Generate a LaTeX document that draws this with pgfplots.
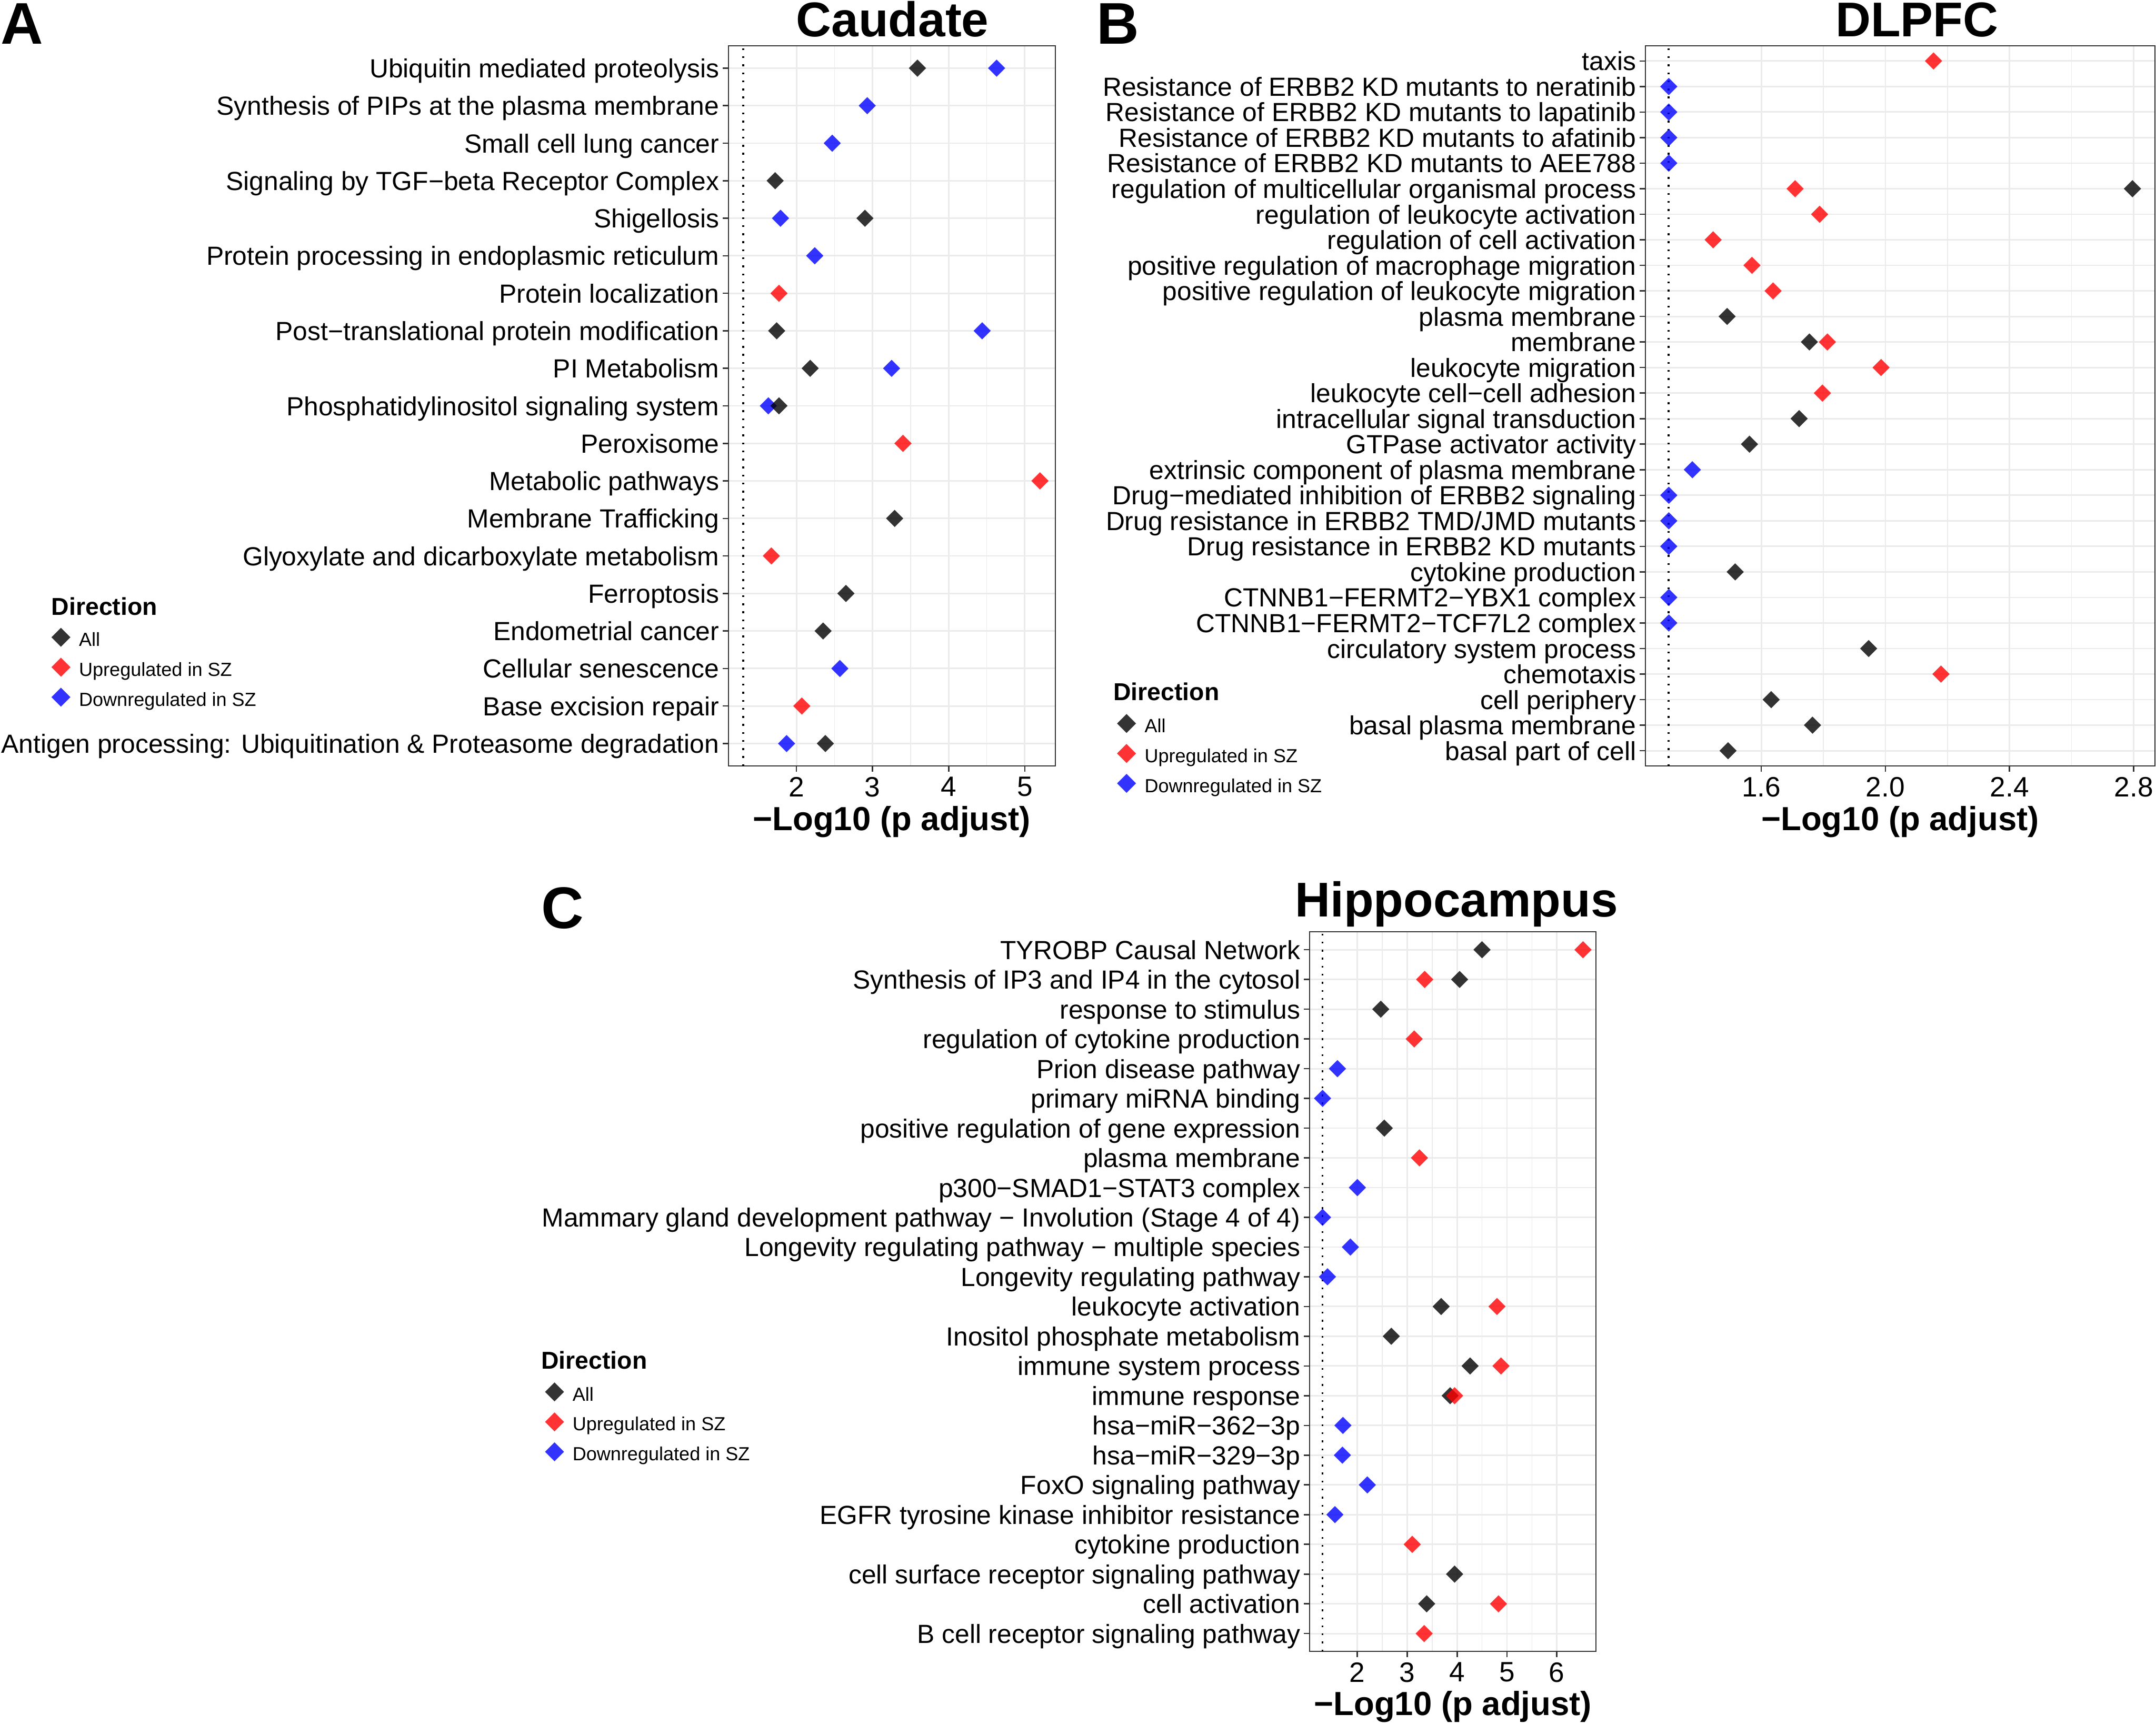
\documentclass[border=0pt]{standalone}
\usepackage{fontspec}
\setmainfont{Liberation Sans}
\usepackage{pgfplots}
\pgfplotsset{compat=1.18}
\definecolor{gg20}{HTML}{333333}
\definecolor{gg92}{HTML}{EBEBEB}
\newcommand{\lab}{\fontsize{5.8}{6.5}\selectfont}
\pgfplotsset{
  sAll/.style={only marks, mark=diamond*, mark size=1.9pt, mark options={draw opacity=0, fill=black, fill opacity=0.8, xscale=1.333}},
  sUp/.style={only marks, mark=diamond*, mark size=1.9pt, mark options={draw opacity=0, fill=red, fill opacity=0.8, xscale=1.333}},
  sDown/.style={only marks, mark=diamond*, mark size=1.9pt, mark options={draw opacity=0, fill=blue, fill opacity=0.8, xscale=1.333}},
  legimg/.style={legend image code/.code={\draw[##1] plot coordinates {(0pt,1.2pt)};}},
  lAll/.style={only marks, mark=diamond*, mark size=2.1pt, mark options={draw opacity=0, fill=black, fill opacity=0.8, xscale=1.333}, legimg},
  lUp/.style={only marks, mark=diamond*, mark size=2.1pt, mark options={draw opacity=0, fill=red, fill opacity=0.8, xscale=1.333}, legimg},
  lDown/.style={only marks, mark=diamond*, mark size=2.1pt, mark options={draw opacity=0, fill=blue, fill opacity=0.8, xscale=1.333}, legimg},
  vline/.style={black, line width=0.4pt, dash pattern=on 0.4pt off 1.38pt},
  panel/.style={
    scale only axis,
    clip=false,
    axis line style={gg20, line width=0.25pt},
    every tick/.style={gg20, line width=0.3pt},
    tick align=outside,
    major tick length=1.25pt,
    minor tick length=0pt,
    xtick pos=left, ytick pos=left,
    xmajorgrids, ymajorgrids, xminorgrids,
    major grid style={gg92, line width=0.33pt},
    minor grid style={gg92, line width=0.17pt},
    minor x tick num=1,
    /pgf/number format/assume math mode=true,
    xticklabel style={font=\fontsize{6.2}{7}\selectfont, inner sep=0pt, yshift=-1pt},
    yticklabel style={font=\lab, inner sep=0pt, xshift=-0.6pt, text height=4.2pt, text depth=0pt},
    xlabel style={at={(axis description cs:0.5,-0.0897)}, anchor=base, font=\bfseries\fontsize{7.4}{8}\selectfont},
    legend style={draw=none, fill=none, inner sep=0pt, outer sep=0pt, anchor=north west,
      font=\fontsize{4.2}{5}\selectfont, row sep=1.05pt, column sep=1.9pt, nodes={inner sep=0pt}},
    legend cell align=left,
  },
}
\begin{document}
\begin{tikzpicture}
\useasboundingbox (0,0) rectangle (477.1pt,381.4pt);

% ---------------- A: Caudate ----------------
\begin{axis}[panel, at={(161.2pt,211.9pt)}, anchor=south west,
  width=72.3pt, height=159.4pt,
  xmin=1.106, xmax=5.40, ymin=0.4, ymax=19.6,
  xtick={2,3,4,5}, ytick={1,...,19},
  yticklabels={Antigen processing: Ubiquitination \& Proteasome degradation, Base excision repair, Cellular senescence, Endometrial cancer, Ferroptosis, Glyoxylate and dicarboxylate metabolism, Membrane Trafficking, Metabolic pathways, Peroxisome, Phosphatidylinositol signaling system, PI Metabolism, Post−translational protein modification, Protein localization, Protein processing in endoplasmic reticulum, Shigellosis, Signaling by TGF−beta Receptor Complex, Small cell lung cancer, Synthesis of PIPs at the plasma membrane, Ubiquitin mediated proteolysis},
  xlabel={−Log10 (p adjust)},
  legend style={at={(axis description cs:-2.072,0.1919)}},
]
\addlegendimage{lAll}\addlegendentry{All}
\addlegendimage{lUp}\addlegendentry{Upregulated in SZ}
\addlegendimage{lDown}\addlegendentry{Downregulated in SZ}
\addplot[vline, forget plot] coordinates {(1.30103,0.4) (1.30103,19.6)};
\addplot[sDown, forget plot] coordinates {(4.63,19) (2.93,18) (2.47,17) (1.79,15) (2.24,14) (4.44,12) (3.25,11) (1.63,10) (2.57,3) (1.87,1)};
\addplot[sAll, forget plot] coordinates {(3.59,19) (1.72,16) (2.90,15) (1.74,12) (2.18,11) (1.77,10) (3.29,7) (2.65,5) (2.35,4) (2.38,1)};
\addplot[sUp, forget plot] coordinates {(1.77,13) (3.40,9) (5.20,8) (1.67,6) (2.07,2)};
\end{axis}

% ---------------- B: DLPFC ----------------
\begin{axis}[panel, at={(364.1pt,211.9pt)}, anchor=south west,
  width=112.8pt, height=159.4pt,
  xmin=1.2265, xmax=2.869, ymin=0.4, ymax=28.6,
  xtick={1.6,2.0,2.4,2.8}, ytick={1,...,28},
  xticklabels={1.6,2.0,2.4,2.8},
  yticklabels={basal part of cell, basal plasma membrane, cell periphery, chemotaxis, circulatory system process, CTNNB1−FERMT2−TCF7L2 complex, CTNNB1−FERMT2−YBX1 complex, cytokine production, Drug resistance in ERBB2 KD mutants, Drug resistance in ERBB2 TMD/JMD mutants, Drug−mediated inhibition of ERBB2 signaling, extrinsic component of plasma membrane, GTPase activator activity, intracellular signal transduction, leukocyte cell−cell adhesion, leukocyte migration, membrane, plasma membrane, positive regulation of leukocyte migration, positive regulation of macrophage migration, regulation of cell activation, regulation of leukocyte activation, regulation of multicellular organismal process, Resistance of ERBB2 KD mutants to AEE788, Resistance of ERBB2 KD mutants to afatinib, Resistance of ERBB2 KD mutants to lapatinib, Resistance of ERBB2 KD mutants to neratinib, taxis},
  xlabel={−Log10 (p adjust)},
  legend style={at={(axis description cs:-1.0364,0.0722)}},
]
\addlegendimage{lAll}\addlegendentry{All}
\addlegendimage{lUp}\addlegendentry{Upregulated in SZ}
\addlegendimage{lDown}\addlegendentry{Downregulated in SZ}
\addplot[vline, forget plot] coordinates {(1.30103,0.4) (1.30103,28.6)};
\addplot[sDown, forget plot] coordinates {(1.302,27) (1.302,26) (1.302,25) (1.302,24) (1.378,12) (1.302,11) (1.302,10) (1.302,9) (1.302,7) (1.302,6)};
\addplot[sAll, forget plot] coordinates {(2.796,23) (1.490,18) (1.755,17) (1.722,14) (1.562,13) (1.516,8) (1.946,5) (1.632,3) (1.765,2) (1.493,1)};
\addplot[sUp, forget plot] coordinates {(2.155,28) (1.709,23) (1.788,22) (1.445,21) (1.570,20) (1.638,19) (1.813,17) (1.986,16) (1.797,15) (2.179,4)};
\end{axis}

% ---------------- C: Hippocampus ----------------
\begin{axis}[panel, at={(289.8pt,16.0pt)}, anchor=south west,
  width=63.4pt, height=159.2pt,
  xmin=1.042, xmax=6.787, ymin=0.4, ymax=24.6,
  xtick={2,3,4,5,6}, ytick={1,...,24},
  yticklabels={B cell receptor signaling pathway, cell activation, cell surface receptor signaling pathway, cytokine production, EGFR tyrosine kinase inhibitor resistance, FoxO signaling pathway, hsa−miR−329−3p, hsa−miR−362−3p, immune response, immune system process, Inositol phosphate metabolism, leukocyte activation, Longevity regulating pathway, Longevity regulating pathway − multiple species, Mammary gland development pathway − Involution (Stage 4 of 4), p300−SMAD1−STAT3 complex, plasma membrane, positive regulation of gene expression, primary miRNA binding, Prion disease pathway, regulation of cytokine production, response to stimulus, Synthesis of IP3 and IP4 in the cytosol, TYROBP Causal Network},
  xlabel={−Log10 (p adjust)},
  xlabel style={at={(axis description cs:0.5,-0.0886)}},
  legend style={at={(axis description cs:-2.6687,0.3738)}},
]
\addlegendimage{lAll}\addlegendentry{All}
\addlegendimage{lUp}\addlegendentry{Upregulated in SZ}
\addlegendimage{lDown}\addlegendentry{Downregulated in SZ}
\addplot[vline, forget plot] coordinates {(1.30103,0.4) (1.30103,24.6)};
\addplot[sDown, forget plot] coordinates {(1.60,20) (1.302,19) (2.00,16) (1.302,15) (1.86,14) (1.40,13) (1.71,8) (1.70,7) (2.20,6) (1.55,5)};
\addplot[sAll, forget plot] coordinates {(4.50,24) (4.05,23) (2.47,22) (2.54,18) (3.68,12) (2.68,11) (4.26,10) (3.86,9) (3.95,3) (3.39,2)};
\addplot[sUp, forget plot] coordinates {(6.525,24) (3.35,23) (3.14,21) (3.245,17) (4.80,12) (4.88,10) (3.95,9) (3.10,4) (4.83,2) (3.34,1)};
\end{axis}

% titles and panel letters
\node[anchor=base, inner sep=0pt, font=\bfseries\fontsize{10.8}{12}\selectfont] at (197.5pt,373.3pt) {Caudate};
\node[anchor=base, inner sep=0pt, font=\bfseries\fontsize{10.8}{12}\selectfont] at (424.2pt,373.3pt) {DLPFC};
\node[anchor=base, inner sep=0pt, font=\bfseries\fontsize{10.8}{12}\selectfont] at (322.3pt,178.6pt) {Hippocampus};
\node[anchor=base west, inner sep=0pt, font=\bfseries\fontsize{13}{14}\selectfont] at (0pt,371.7pt) {A};
\node[anchor=base west, inner sep=0pt, font=\bfseries\fontsize{13}{14}\selectfont] at (242.5pt,371.7pt) {B};
\node[anchor=base west, inner sep=0pt, font=\bfseries\fontsize{13}{14}\selectfont] at (119.6pt,176.0pt) {C};
% legend titles
\node[anchor=west, inner sep=0pt, font=\bfseries\fontsize{5.4}{6}\selectfont] at (11.2pt,247.2pt) {Direction};
\node[anchor=west, inner sep=0pt, font=\bfseries\fontsize{5.4}{6}\selectfont] at (246.2pt,228.3pt) {Direction};
\node[anchor=west, inner sep=0pt, font=\bfseries\fontsize{5.4}{6}\selectfont] at (119.6pt,80.4pt) {Direction};
\end{tikzpicture}
\end{document}
